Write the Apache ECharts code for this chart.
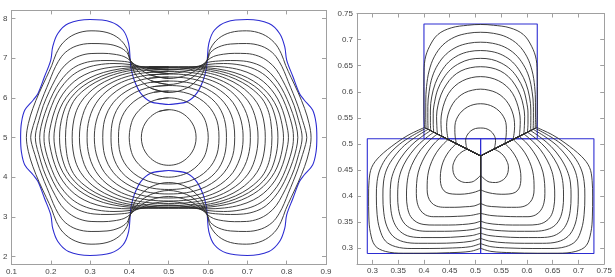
<!DOCTYPE html>
<html><head><meta charset="utf-8">
<script src="https://cdn.jsdelivr.net/npm/echarts@6/dist/echarts.min.js"></script>
<style>html,body{margin:0;padding:0;background:#fff}#c{width:615px;height:277px}</style>
</head><body><div id="c"></div>
<script>
// ---------- axis ranges ----------
const leftXRange = [0.1, 0.9];
const leftYRange = [1.8, 8.2];
const rightXRange = [0.27, 0.75];
const rightYRange = [0.27, 0.75];

// ---------- LEFT PANEL ----------
// Each curve: its top-left quarter, from the top middle (x=0.5) to the left middle (y=5).
// The figure is symmetric about x=0.5 and y=5.
const blueQuarter = [[0.5,5.83],[0.488,5.84],[0.454,5.90],[0.429,6.11],[0.412,6.45],[0.404,6.75],[0.402,6.95],[0.398,7.37],[0.384,7.70],[0.353,7.91],[0.3,7.97],[0.245,7.87],[0.218,7.62],[0.205,7.29],[0.2,6.95],[0.184,6.53],[0.1675,6.11],[0.156,5.95],[0.134,5.69],[0.1253,5.36],[0.1233,5.0]];

const curve01 = [[0.5,6.133],[0.4544,6.243],[0.4241,6.483],[0.4114,6.671],[0.402,6.951],[0.3937,7.240],[0.3734,7.492],[0.343,7.643],[0.3025,7.686],[0.262,7.605],[0.2316,7.391],[0.2139,7.114],[0.2025,6.812],[0.1886,6.510],[0.1709,6.133],[0.1544,5.730],[0.143,5.352],[0.138,5.0]];
const curve02 = [[0.5,6.334],[0.4544,6.435],[0.4241,6.644],[0.402,6.951],[0.3937,7.139],[0.3734,7.278],[0.343,7.353],[0.3025,7.366],[0.2646,7.303],[0.2367,7.139],[0.219,6.913],[0.2063,6.661],[0.1962,6.410],[0.1835,6.107],[0.1709,5.780],[0.1595,5.428],[0.1519,5.176],[0.1489,5.0]];
const curve03 = [[0.5,6.485],[0.4544,6.571],[0.4241,6.739],[0.402,6.938],[0.3861,7.039],[0.3608,7.097],[0.3329,7.119],[0.3025,7.114],[0.2722,7.051],[0.2468,6.913],[0.2266,6.712],[0.2114,6.460],[0.1962,6.158],[0.181,5.805],[0.1696,5.428],[0.1628,5.176],[0.1608,5.0]];
const curve04 = [[0.5,6.611],[0.4544,6.674],[0.4241,6.787],[0.402,6.888],[0.3734,6.926],[0.343,6.938],[0.3101,6.926],[0.2772,6.850],[0.2519,6.712],[0.2316,6.510],[0.2139,6.259],[0.1987,5.956],[0.1848,5.604],[0.1754,5.277],[0.1717,5.0]];
const curve05 = [[0.5,6.699],[0.4494,6.749],[0.402,6.837],[0.3608,6.863],[0.3177,6.825],[0.2823,6.724],[0.2544,6.561],[0.2342,6.359],[0.2165,6.107],[0.2025,5.805],[0.1911,5.478],[0.1843,5.201],[0.1828,5.0]];
const curve06 = [[0.5,6.762],[0.4494,6.774],[0.402,6.795],[0.3582,6.774],[0.3177,6.699],[0.2848,6.573],[0.2595,6.410],[0.2392,6.208],[0.2228,5.969],[0.2101,5.680],[0.2008,5.352],[0.1955,5.0]];
const curve07 = [[0.5,6.782],[0.4494,6.782],[0.3987,6.754],[0.3532,6.686],[0.3152,6.573],[0.2848,6.422],[0.2595,6.233],[0.2392,6.007],[0.2241,5.743],[0.2139,5.428],[0.2081,5.0]];
const curve08 = [[0.5,6.774],[0.4443,6.764],[0.3937,6.712],[0.3481,6.611],[0.3127,6.472],[0.2823,6.296],[0.2595,6.095],[0.2418,5.856],[0.2304,5.566],[0.2241,5.277],[0.2223,5.0]];
const curve09 = [[0.5,6.749],[0.4443,6.732],[0.3937,6.669],[0.3481,6.543],[0.3127,6.384],[0.2848,6.196],[0.262,5.969],[0.2481,5.705],[0.2405,5.403],[0.2375,5.0]];
const curve10 = [[0.5,6.712],[0.4443,6.691],[0.3937,6.611],[0.3532,6.480],[0.3203,6.309],[0.2949,6.107],[0.276,5.881],[0.2633,5.617],[0.2565,5.315],[0.2544,5.0]];
const curve11 = [[0.5,6.661],[0.4443,6.636],[0.3987,6.548],[0.3608,6.410],[0.3304,6.233],[0.3076,6.032],[0.2911,5.805],[0.281,5.554],[0.2747,5.277],[0.2729,5.0]];
const curve12 = [[0.5,6.598],[0.4494,6.573],[0.4063,6.485],[0.3709,6.347],[0.343,6.170],[0.3228,5.969],[0.3076,5.730],[0.2982,5.478],[0.2934,5.227],[0.2924,5.0]];
const curve13 = [[0.5,6.523],[0.4494,6.490],[0.4114,6.397],[0.381,6.259],[0.3557,6.082],[0.3367,5.881],[0.3241,5.654],[0.3157,5.415],[0.3116,5.176],[0.3109,5.0]];
const curve14 = [[0.5,6.422],[0.4544,6.389],[0.419,6.296],[0.3911,6.158],[0.3684,5.982],[0.3519,5.780],[0.341,5.566],[0.3344,5.327],[0.3322,5.0]];
const curve15 = [[0.5,6.309],[0.4595,6.279],[0.4266,6.188],[0.4013,6.057],[0.381,5.881],[0.3671,5.680],[0.3582,5.453],[0.3542,5.227],[0.3532,5.0]];
const curve16 = [[0.5,6.170],[0.462,6.138],[0.4342,6.045],[0.4114,5.906],[0.3937,5.730],[0.3815,5.529],[0.3744,5.302],[0.3722,5.0]];
const curve17 = [[0.5,5.999],[0.4696,5.954],[0.4443,5.846],[0.4241,5.680],[0.4101,5.491],[0.4023,5.252],[0.3995,5.0]];
const curve18 = [[0.5,5.700],[0.4747,5.654],[0.4544,5.529],[0.4405,5.365],[0.4329,5.189],[0.4304,5.0]];
const blackQuarters = [curve01,curve02,curve03,curve04,curve05,curve06,curve07,curve08,curve09,curve10,curve11,curve12,curve13,curve14,curve15,curve16,curve17,curve18];

// ---------- RIGHT PANEL ----------
// Three boxes [x0, y0, x1, y1]
const blueBoxes = [[0.40,0.51,0.62,0.73],[0.29,0.29,0.51,0.51],[0.51,0.29,0.73,0.51]];
const tripleCenter = [0.51, 0.477];
// Left half of each snapshot (the figure is mirrored about x = 0.51).
// Top lobe: from the top middle down to the upper-left junction.
const topLobes = [
 [[0.51,0.729],[0.485,0.7275],[0.453,0.7225],[0.427,0.7097],[0.411,0.6872],[0.402,0.6617],[0.4,0.63],[0.3998,0.59],[0.4,0.555],[0.401,0.5315]],
 [[0.51,0.714],[0.485,0.712],[0.46,0.705],[0.437,0.69],[0.42,0.667],[0.41,0.64],[0.405,0.61],[0.4035,0.58],[0.4035,0.55],[0.404,0.530]],
 [[0.51,0.695],[0.487,0.693],[0.464,0.686],[0.443,0.672],[0.427,0.652],[0.416,0.628],[0.41,0.60],[0.4075,0.572],[0.4075,0.548],[0.408,0.528]],
 [[0.51,0.679],[0.488,0.677],[0.467,0.67],[0.448,0.657],[0.433,0.638],[0.422,0.616],[0.415,0.59],[0.4125,0.565],[0.4125,0.544],[0.413,0.5255]],
 [[0.51,0.664],[0.489,0.662],[0.47,0.655],[0.452,0.643],[0.438,0.626],[0.427,0.605],[0.421,0.582],[0.418,0.559],[0.418,0.54],[0.419,0.5225]],
 [[0.51,0.648],[0.49,0.646],[0.472,0.64],[0.456,0.629],[0.443,0.613],[0.433,0.594],[0.427,0.573],[0.4245,0.553],[0.425,0.535],[0.426,0.519]],
 [[0.51,0.629],[0.492,0.627],[0.475,0.621],[0.46,0.611],[0.448,0.597],[0.44,0.58],[0.435,0.562],[0.433,0.545],[0.4335,0.529],[0.435,0.5145]],
 [[0.51,0.605],[0.494,0.603],[0.479,0.598],[0.466,0.589],[0.456,0.577],[0.449,0.563],[0.445,0.548],[0.444,0.533],[0.445,0.52],[0.447,0.5085]],
 [[0.51,0.577],[0.497,0.5755],[0.485,0.571],[0.474,0.563],[0.466,0.553],[0.461,0.541],[0.46,0.528],[0.4605,0.515],[0.463,0.5005]],
 [[0.51,0.5305],[0.5,0.5295],[0.491,0.525],[0.484,0.517],[0.481,0.507],[0.482,0.497],[0.484,0.490]]
];
// Lower-left lobe: from the upper-left junction round to the junction on x = 0.51.
const leftLobes = [
 [[0.401,0.5315],[0.371,0.5176],[0.346,0.5017],[0.314,0.476],[0.2985,0.455],[0.2935,0.43],[0.2925,0.40],[0.293,0.36],[0.296,0.33],[0.305,0.305],[0.325,0.294],[0.36,0.2905],[0.40,0.2905],[0.45,0.2915],[0.49,0.294],[0.51,0.300]],
 [[0.404,0.530],[0.378,0.516],[0.352,0.499],[0.329,0.476],[0.315,0.452],[0.309,0.428],[0.3076,0.40],[0.309,0.365],[0.314,0.337],[0.325,0.314],[0.345,0.303],[0.375,0.2995],[0.41,0.2995],[0.455,0.3005],[0.49,0.303],[0.51,0.309]],
 [[0.408,0.528],[0.385,0.514],[0.362,0.497],[0.342,0.475],[0.328,0.452],[0.3215,0.427],[0.3203,0.40],[0.322,0.368],[0.328,0.342],[0.34,0.323],[0.36,0.3125],[0.39,0.3095],[0.425,0.3095],[0.462,0.3105],[0.492,0.3135],[0.51,0.319]],
 [[0.413,0.5255],[0.393,0.512],[0.373,0.495],[0.355,0.473],[0.342,0.449],[0.3355,0.425],[0.3344,0.40],[0.336,0.372],[0.342,0.349],[0.354,0.332],[0.373,0.3225],[0.40,0.3205],[0.435,0.3205],[0.468,0.322],[0.494,0.3245],[0.51,0.329]],
 [[0.419,0.5225],[0.401,0.509],[0.383,0.492],[0.367,0.471],[0.3555,0.448],[0.35,0.424],[0.349,0.40],[0.3505,0.376],[0.3565,0.356],[0.368,0.342],[0.386,0.3345],[0.41,0.3325],[0.44,0.3325],[0.47,0.3335],[0.495,0.336],[0.51,0.340]],
 [[0.426,0.519],[0.41,0.506],[0.394,0.489],[0.381,0.469],[0.3715,0.447],[0.367,0.423],[0.3661,0.40],[0.368,0.378],[0.374,0.361],[0.385,0.3505],[0.40,0.3455],[0.42,0.3445],[0.448,0.3445],[0.475,0.3455],[0.497,0.348],[0.51,0.352]],
 [[0.435,0.5145],[0.421,0.502],[0.408,0.486],[0.397,0.467],[0.389,0.446],[0.3857,0.424],[0.3852,0.405],[0.387,0.387],[0.393,0.373],[0.403,0.364],[0.418,0.3605],[0.44,0.3605],[0.465,0.3612],[0.49,0.3628],[0.51,0.367]],
 [[0.447,0.5085],[0.435,0.497],[0.424,0.483],[0.415,0.466],[0.409,0.448],[0.4065,0.43],[0.4062,0.413],[0.408,0.399],[0.414,0.388],[0.424,0.381],[0.44,0.3785],[0.46,0.3785],[0.48,0.3795],[0.497,0.381],[0.51,0.386]],
 [[0.463,0.5005],[0.453,0.491],[0.444,0.479],[0.437,0.465],[0.433,0.45],[0.4318,0.436],[0.4325,0.424],[0.436,0.414],[0.443,0.407],[0.455,0.404],[0.47,0.4035],[0.487,0.405],[0.5,0.408],[0.51,0.412]],
 [[0.484,0.490],[0.474,0.485],[0.465,0.477],[0.459,0.467],[0.456,0.456],[0.457,0.445],[0.462,0.435],[0.47,0.429],[0.481,0.426],[0.493,0.427],[0.503,0.433],[0.51,0.44]]
];

// ---------- build ----------
const BLACK = '#2b2b2b', BLUE = '#2c2cd2', FRAME = '#a0a0a0';
function loopFromQuarter(q){
  const n = q.length, p = [];
  for (let i=0;i<n;i++) p.push([q[i][0], q[i][1]]);
  for (let i=n-2;i>=0;i--) p.push([q[i][0], 10-q[i][1]]);
  for (let i=1;i<n;i++) p.push([1-q[i][0], 10-q[i][1]]);
  for (let i=n-2;i>=0;i--) p.push([1-q[i][0], q[i][1]]);
  p.push([q[1][0], q[1][1]]);
  return p;
}
const mx = pt => [1.02-pt[0], pt[1]];
function lineS(data, color, gi, smooth, width, z){
  return {type:'line', data, xAxisIndex:gi*2, yAxisIndex:gi*2, showSymbol:false, symbol:'none',
    smooth, silent:true, animation:false, z:z||2,
    lineStyle:{color, width:width||1}};
}
const series = [];
series.push(lineS(loopFromQuarter(blueQuarter), BLUE, 0, 0.35, 1.1, 1));
blackQuarters.forEach(q => series.push(lineS(loopFromQuarter(q), BLACK, 0, 0.35, 0.9, 2)));

blueBoxes.forEach(b => series.push(lineS([[b[0],b[1]],[b[2],b[1]],[b[2],b[3]],[b[0],b[3]],[b[0],b[1]]], BLUE, 1, false, 1.1, 1)));
for (let k=0;k<topLobes.length;k++){
  const t = topLobes[k], l = leftLobes[k];
  const top = t.slice().reverse().concat(t.slice(1).map(mx));
  series.push(lineS(top, BLACK, 1, 0.35, 0.9, 2));
  series.push(lineS(l, BLACK, 1, 0.35, 0.9, 2));
  series.push(lineS(l.map(mx), BLACK, 1, 0.35, 0.9, 2));
  const jul = l[0], jb = l[l.length-1], jur = mx(jul);
  series.push(lineS([jul, tripleCenter, jur], BLACK, 1, false, 1, 3));
  series.push(lineS([tripleCenter, jb], BLACK, 1, false, 1, 3));
}

const lblStyle = {fontSize:8, color:'#444', fontFamily:'Liberation Sans, Arial, sans-serif'};
function axisPair(dim, gi, range, extra){
  const base = {type:'value', gridIndex:gi, min:range[0], max:range[1],
    axisLine:{show:true, onZero:false, lineStyle:{color:FRAME, width:1}},
    axisTick:{show:true, inside:true, length:4, lineStyle:{color:FRAME}},
    splitLine:{show:false}};
  const a = Object.assign({}, base, extra, {position: dim==='x'?'bottom':'left',
    axisLabel:Object.assign({show:true, margin: dim==='x'?3:4, showMinLabel:false, showMaxLabel:(extra.showMax!==false)}, lblStyle)});
  const b = Object.assign({}, base, extra, {position: dim==='x'?'top':'right', axisLabel:{show:false}});
  delete a.showMax; delete b.showMax;
  return [a,b];
}
const xAxes = [].concat(
  axisPair('x',0,leftXRange,{interval:0.1, showMax:true}),
  axisPair('x',1,rightXRange,{splitNumber:10, showMax:true}));
const yAxes = [].concat(
  axisPair('y',0,leftYRange,{splitNumber:5, showMax:false}),
  axisPair('y',1,rightYRange,{splitNumber:10, showMax:true}));
xAxes[0].axisLabel.showMinLabel = true;

const chart = echarts.init(document.getElementById('c'), null, {renderer:'canvas'});
chart.setOption({
  animation:false,
  backgroundColor:'#fff',
  grid:[{left:10, top:10.4, width:316, height:254.2},{left:357, top:13.5, width:251.3, height:250.4}],
  xAxis:xAxes, yAxis:yAxes, series
});
</script></body></html>
